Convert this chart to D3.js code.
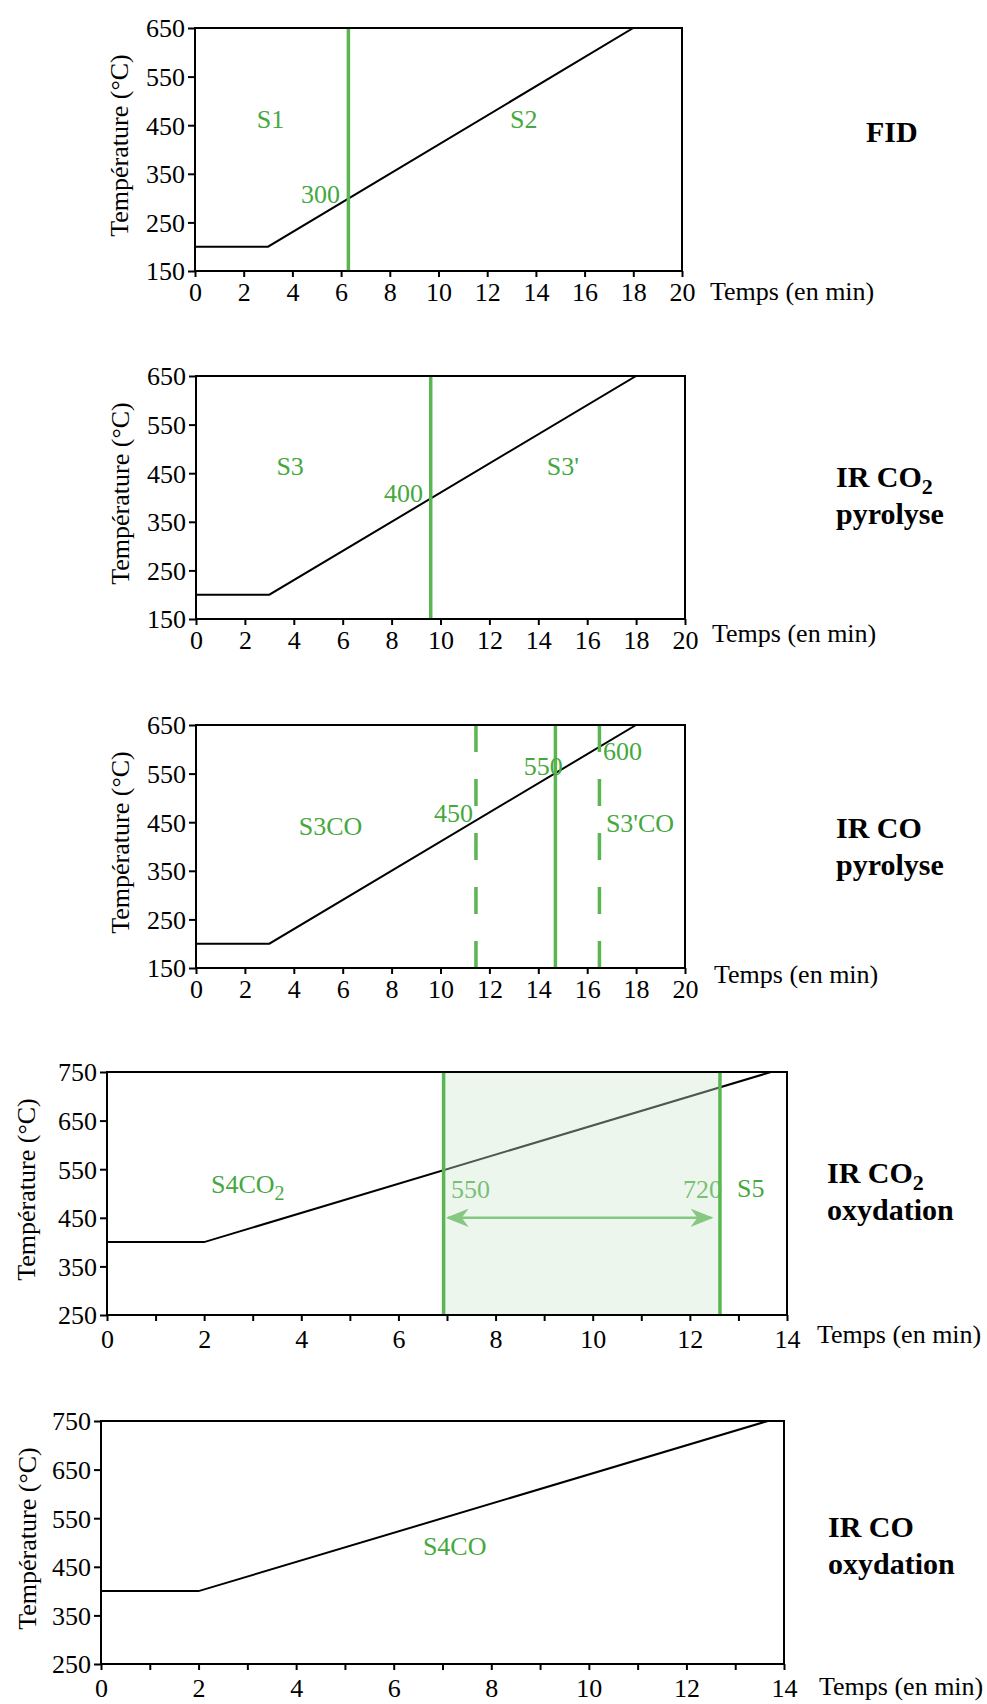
<!DOCTYPE html>
<html>
<head>
<meta charset="utf-8">
<script src="https://cdn.jsdelivr.net/npm/d3@7"></script>
<style>
  body { margin: 0; background: #fff; }
  text { font-family: "Liberation Serif", serif; }
</style>
</head>
<body>
<script>
// temperature programmes (time in min, temperature in °C)
const pyroTime = [0, 3, 18, 20];
const pyroTemp = [200, 200, 650, 650];
const oxyTime = [0, 2, 13.67];
const oxyTemp = [400, 400, 750];

// axis ticks
const pyroXTicks = [0, 2, 4, 6, 8, 10, 12, 14, 16, 18, 20];
const pyroYTicks = [150, 250, 350, 450, 550, 650];
const oxyXTicks = [0, 1, 2, 3, 4, 5, 6, 7, 8, 9, 10, 11, 12, 13, 14];
const oxyXLabels = [0, 2, 4, 6, 8, 10, 12, 14];
const oxyYTicks = [250, 350, 450, 550, 650, 750];

// cut-off times (min)
const fidCuts = [6.3];
const co2PyroCuts = [9.6];
const coPyroCuts = [11.45, 14.7, 16.5];
const coPyroDashed = [true, false, true];
const co2OxyCuts = [6.93, 12.62];

// annotations [text, time, temp]
const fidNotes = [["S1", 3.1, 444], ["300", 5.95, 290], ["S2", 13.5, 444]];
const co2PyroNotes = [["S3", 3.85, 446], ["400", 9.28, 391], ["S3'", 15.0, 446]];
const coPyroNotes = [["S3CO", 5.5, 424], ["450", 11.33, 450], ["550", 15.0, 547], ["600", 16.65, 578], ["S3'CO", 18.16, 430]];
const co2OxyNotes = [["550", 7.08, 491], ["720", 12.66, 491], ["S5", 12.97, 493]];
const coOxyNotes = [["S4CO", 7.25, 474]];

const width = 987, height = 1704;
const green = "#5ab552", greenText = "#45a83f";
const font = "Liberation Serif";

const svg = d3.select("body").append("svg")
  .attr("width", width).attr("height", height)
  .attr("viewBox", [0, 0, width, height]);

svg.append("defs").append("marker")
  .attr("id", "arrow")
  .attr("viewBox", "0 -4 10 8")
  .attr("refX", 9).attr("refY", 0)
  .attr("markerUnits", "userSpaceOnUse")
  .attr("markerWidth", 23).attr("markerHeight", 18.4)
  .attr("orient", "auto-start-reverse")
  .append("path")
  .attr("d", "M10,0L0,-4L3,0L0,4Z")
  .attr("fill", green);

const drawPanel = p => {
  const g = svg.append("g");
  const x = d3.scaleLinear().domain(p.xDomain).range([p.left, p.right]);
  const y = d3.scaleLinear().domain(p.yDomain).range([p.bottom, p.top]);

  const pts = p.time.map((t, i) => [t, p.temp[i]]);
  g.append("path")
    .attr("d", d3.line().x(d => x(d[0])).y(d => y(d[1]))(pts))
    .attr("fill", "none").attr("stroke", "#000").attr("stroke-width", 2);

  const isUnder = d => p.shade && (d[0] === "550" || d[0] === "720");

  // shaded window (oxidation CO2)
  if (p.shade) {
    p.notes.filter(isUnder).forEach(d => {
      g.append("text")
        .attr("x", x(d[1])).attr("y", y(d[2]))
        .attr("text-anchor", d[0] === "720" ? "end" : "start")
        .attr("fill", greenText).attr("font-size", 26)
        .text(d[0]);
    });
    g.append("line")
      .attr("x1", x(p.arrow[0])).attr("x2", x(p.arrow[1]))
      .attr("y1", y(p.arrow[2])).attr("y2", y(p.arrow[2]))
      .attr("stroke", green).attr("stroke-width", 2.5)
      .attr("marker-start", "url(#arrow)").attr("marker-end", "url(#arrow)");
    g.append("rect")
      .attr("x", x(p.shade[0])).attr("y", p.top)
      .attr("width", x(p.shade[1]) - x(p.shade[0])).attr("height", p.bottom - p.top)
      .attr("fill", "#cfe8cf").attr("opacity", 0.38);
  }

  g.selectAll(null).data(p.cuts).join("line")
    .attr("x1", d => x(d)).attr("x2", d => x(d))
    .attr("y1", p.top).attr("y2", p.bottom)
    .attr("stroke", green).attr("stroke-width", 3.5)
    .attr("stroke-dasharray", (d, i) => p.dashed && p.dashed[i] ? "27,27" : null);

  p.notes.filter(d => !isUnder(d)).forEach(d => {
    g.append("text")
      .attr("x", x(d[1])).attr("y", y(d[2]))
      .attr("text-anchor", p.anchor[d[0]] || "middle")
      .attr("fill", greenText).attr("font-size", 26)
      .text(d[0]);
  });
  if (p.sub) {
    const t = g.append("text")
      .attr("x", x(p.sub[1])).attr("y", y(p.sub[2]))
      .attr("fill", greenText).attr("font-size", 26);
    t.append("tspan").text(p.sub[0]);
    t.append("tspan").attr("font-size", 20).attr("dy", 7).text("2");
  }

  // frame
  g.append("rect")
    .attr("x", p.left).attr("y", p.top)
    .attr("width", p.right - p.left).attr("height", p.bottom - p.top)
    .attr("fill", "none").attr("stroke", "#000").attr("stroke-width", 2);

  const xAxis = g.append("g")
    .attr("transform", `translate(0,${p.bottom})`)
    .call(d3.axisBottom(x).tickValues(p.xTicks).tickSize(6).tickPadding(p.xPad)
      .tickFormat(d => p.xLabels.includes(d) ? d : ""));
  const yAxis = g.append("g")
    .attr("transform", `translate(${p.left},0)`)
    .call(d3.axisLeft(y).tickValues(p.yTicks).tickSize(7).tickPadding(3));
  [xAxis, yAxis].forEach(a => {
    a.select(".domain").remove();
    a.attr("font-family", font).attr("font-size", 26);
    a.selectAll(".tick line").attr("stroke-width", 2);
    a.selectAll(".tick text").attr("fill", "#000");
  });
  yAxis.selectAll(".tick text").attr("dy", "0.34em");

  g.append("text")
    .attr("x", p.right + p.xTitle[0]).attr("y", p.bottom + p.xTitle[1])
    .attr("font-size", 26).text("Temps (en min)");

  g.append("text")
    .attr("transform", `translate(${p.left + p.yTitle},${(p.top + p.bottom) / 2 - 4}) rotate(-90)`)
    .attr("text-anchor", "middle")
    .attr("font-size", 26).text("Température (°C)");

  // panel title
  const title = g.append("text")
    .attr("x", p.title.x).attr("y", p.title.y)
    .attr("font-size", 30).attr("font-weight", "bold");
  title.append("tspan").text(p.title.lines[0]);
  if (p.title.sub) title.append("tspan").attr("font-size", 22).attr("dy", 7).text("2");
  if (p.title.lines[1]) {
    g.append("text")
      .attr("x", p.title.x).attr("y", p.title.y + 37)
      .attr("font-size", 30).attr("font-weight", "bold")
      .text(p.title.lines[1]);
  }
};

const pyroBase = {
  xDomain: [0, 20], yDomain: [150, 650],
  time: pyroTime, temp: pyroTemp,
  xTicks: pyroXTicks, xLabels: pyroXTicks, yTicks: pyroYTicks,
  xPad: 6, yTitle: -67, anchor: {}
};
const oxyBase = {
  xDomain: [0, 14], yDomain: [250, 750],
  time: oxyTime, temp: oxyTemp,
  xTicks: oxyXTicks, xLabels: oxyXLabels, yTicks: oxyYTicks,
  xPad: 9, yTitle: -72, anchor: {}
};

drawPanel({...pyroBase, left: 195, right: 682, top: 28, bottom: 271,
  cuts: fidCuts, notes: fidNotes, anchor: {"300": "end"},
  xTitle: [28, 29], title: {x: 866, y: 142, lines: ["FID"]}});

drawPanel({...pyroBase, left: 196, right: 685, top: 376, bottom: 619,
  cuts: co2PyroCuts, notes: co2PyroNotes, anchor: {"400": "end"},
  xTitle: [27, 23], title: {x: 836, y: 487, lines: ["IR CO", "pyrolyse"], sub: true}});

drawPanel({...pyroBase, left: 196, right: 685, top: 725, bottom: 968,
  cuts: coPyroCuts, dashed: coPyroDashed, notes: coPyroNotes,
  anchor: {"450": "end", "550": "end", "600": "start"},
  xTitle: [29, 15], title: {x: 836, y: 838, lines: ["IR CO", "pyrolyse"]}});

drawPanel({...oxyBase, left: 107, right: 787, top: 1072, bottom: 1315,
  cuts: co2OxyCuts, notes: co2OxyNotes, anchor: {"S5": "start"},
  shade: [co2OxyCuts[0], co2OxyCuts[1]], arrow: [7.02, 12.44, 450],
  sub: ["S4CO", 2.14, 501],
  xTitle: [30, 28], title: {x: 827, y: 1183, lines: ["IR CO", "oxydation"], sub: true}});

drawPanel({...oxyBase, left: 101, right: 784, top: 1421, bottom: 1664,
  cuts: [], notes: coOxyNotes, yTitle: -65,
  xTitle: [35, 31], title: {x: 828, y: 1537, lines: ["IR CO", "oxydation"]}});
</script>
</body>
</html>
